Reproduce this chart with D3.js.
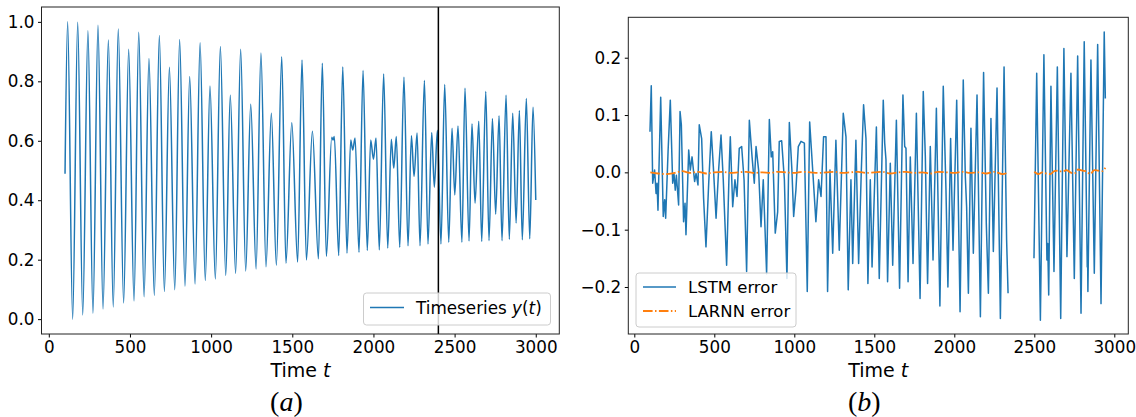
<!DOCTYPE html>
<html>
<head>
<meta charset="utf-8">
<script src="https://cdn.jsdelivr.net/npm/d3@7"></script>
<style>
body { margin: 0; background: #fff; }
text { font-family: "DejaVu Sans", sans-serif; fill: #000; }
</style>
</head>
<body>
<svg id="chart" width="1136" height="417"></svg>
<script>

// ---- data ----
// (a) timeseries, peaks and troughs
var seriesTime = [100, 116, 147, 178, 209, 241, 272, 303, 334, 367, 397, 428, 461, 492, 525, 554, 587, 617, 650, 681,
	712, 743, 776, 806, 839, 868, 901, 932, 964, 993, 1026, 1057, 1090, 1118, 1151, 1182, 1213, 1244, 1277, 1307,
	1338, 1371, 1402, 1435, 1461, 1497, 1533, 1560, 1587, 1624, 1661, 1685, 1710, 1743, 1751, 1759, 1786, 1811, 1837, 1860,
	1872, 1887, 1911, 1936, 1962, 1983, 2000, 2016, 2036, 2063, 2088, 2110, 2125, 2141, 2162, 2188, 2213, 2234, 2250, 2269,
	2287, 2314, 2336, 2359, 2375, 2394, 2416, 2439, 2464, 2484, 2501, 2521, 2545, 2564, 2589, 2607, 2626, 2649, 2667, 2692,
	2712, 2733, 2753, 2774, 2792, 2817, 2837, 2858, 2879, 2899, 2917, 2942, 2963, 2983, 3000];
var seriesValue = [0.489, 1.0, 0.0, 0.999, 0.014, 0.970, 0.020, 0.989, 0.034, 0.939, 0.041, 0.976, 0.054, 0.908, 0.061, 0.965, 0.075, 0.877, 0.080, 0.954,
	0.093, 0.847, 0.099, 0.941, 0.111, 0.816, 0.118, 0.930, 0.130, 0.784, 0.135, 0.917, 0.147, 0.753, 0.154, 0.908, 0.162, 0.723, 0.169, 0.895,
	0.176, 0.693, 0.181, 0.883, 0.188, 0.661, 0.192, 0.872, 0.199, 0.632, 0.203, 0.861, 0.211, 0.612, 0.603, 0.614, 0.214, 0.848, 0.222, 0.603,
	0.569, 0.609, 0.225, 0.836, 0.231, 0.603, 0.538, 0.609, 0.233, 0.825, 0.239, 0.605, 0.508, 0.614, 0.242, 0.814, 0.247, 0.617, 0.480, 0.626,
	0.247, 0.803, 0.253, 0.628, 0.444, 0.635, 0.253, 0.789, 0.259, 0.642, 0.418, 0.650, 0.259, 0.777, 0.263, 0.657, 0.390, 0.666, 0.261, 0.766,
	0.264, 0.675, 0.353, 0.684, 0.264, 0.753, 0.269, 0.693, 0.323, 0.702, 0.267, 0.742, 0.270, 0.713, 0.401];
var splitTime = 2400;

// (b) LSTM error, two pieces
var lstmTime1 = [98, 106, 115, 127, 136, 142, 148, 165, 181, 190, 196, 211, 225, 240, 248, 256, 263, 277, 286, 294,
	308, 317, 323, 340, 350, 361, 377, 386, 398, 406, 421, 433, 448, 465, 481, 494, 511, 527, 542, 556,
	577, 594, 600, 615, 629, 642, 656, 671, 686, 702, 719, 736, 750, 761, 777, 792, 806, 827, 844, 856,
	865, 881, 896, 906, 921, 938, 954, 969, 985, 996, 1010, 1025, 1042, 1063, 1081, 1096, 1115, 1135, 1152, 1167,
	1183, 1198, 1208, 1223, 1240, 1260, 1281, 1306, 1323, 1337, 1354, 1365, 1385, 1402, 1419, 1433, 1448, 1460, 1475, 1486,
	1513, 1531, 1556, 1565, 1573, 1583, 1600, 1615, 1638, 1658, 1679, 1690, 1698, 1711, 1725, 1742, 1763, 1786, 1806, 1819,
	1833, 1850, 1867, 1888, 1910, 1931, 1948, 1960, 1977, 1992, 2015, 2036, 2056, 2069, 2077, 2088, 2104, 2119, 2142, 2163,
	2183, 2200, 2213, 2229, 2244, 2267, 2288, 2311, 2327, 2336];
var lstmValue1 = [0.071, 0.151, -0.019, 0.004, -0.037, -0.019, -0.066, 0.131, -0.077, -0.048, -0.080, 0.036, 0.126, -0.019, -0.002, -0.031, -0.005, -0.057, 0.106, 0.083,
	-0.086, -0.054, -0.109, 0.039, 0.004, 0.027, -0.016, -0.002, -0.022, 0.083, 0.059, -0.045, -0.130, -0.019, 0.071, 0.010, -0.080, 0.004, 0.065, -0.013,
	-0.162, 0.016, 0.062, -0.060, -0.013, -0.042, 0.042, 0.045, -0.013, -0.173, 0.091, 0.027, -0.019, 0.045, 0.004, -0.095, -0.013, -0.177, 0.092, 0.027,
	0.036, -0.106, -0.069, 0.054, 0.055, -0.013, -0.185, 0.087, 0.004, -0.077, -0.031, 0.045, 0.054, 0.051, -0.208, 0.088, 0.004, -0.086, -0.013, -0.042,
	0.062, 0.062, -0.208, 0.004, -0.141, 0.056, -0.136, 0.103, 0.062, -0.205, -0.013, -0.159, 0.056, -0.159, 0.004, 0.118, 0.059, -0.194, -0.013, -0.165,
	0.079, -0.185, 0.126, 0.051, 0.022, -0.191, 0.016, -0.162, 0.091, -0.202, 0.135, 0.045, 0.042, -0.191, 0.027, -0.159, 0.103, -0.220, 0.141, 0.027,
	-0.194, 0.045, -0.153, 0.112, -0.233, 0.150, -0.031, -0.200, 0.059, -0.136, 0.126, -0.243, 0.161, -0.008, -0.060, -0.211, 0.077, -0.141, 0.135, -0.252,
	0.174, -0.089, -0.211, 0.094, -0.138, 0.147, -0.255, 0.184, -0.118, -0.211];
var lstmTime2 = [2498, 2515, 2538, 2560, 2579, 2584, 2590, 2604, 2623, 2644, 2665, 2685, 2704, 2729, 2750, 2771, 2792, 2812, 2831, 2833,
	2835, 2854, 2875, 2896, 2917, 2937, 2944];
var lstmValue2 = [-0.150, 0.173, -0.258, 0.205, -0.153, -0.124, -0.214, 0.150, -0.173, 0.184, -0.255, 0.216, -0.147, 0.173, -0.185, 0.203, -0.246, 0.228, -0.165, -0.140,
	-0.208, 0.196, -0.176, 0.223, -0.229, 0.245, 0.129];

// (b) LARNN error, two pieces
var larnnTime1 = [100, 150, 200, 250, 300, 350, 400, 450, 500, 550, 600, 650, 700, 750, 800, 850, 900, 950, 1000, 1050,
	1100, 1150, 1200, 1250, 1300, 1350, 1400, 1450, 1500, 1550, 1600, 1650, 1700, 1750, 1800, 1850, 1900, 1950, 2000, 2050,
	2100, 2150, 2200, 2250, 2300, 2340];
var larnnValue1 = [0.000, -0.002, -0.003, -0.001, 0.002, -0.001, 0.001, -0.002, 0.000, 0.001, -0.001, 0.000, 0.001, -0.001, 0.000, -0.001, 0.001, 0.000, -0.001, 0.001,
	0.000, -0.001, 0.000, 0.001, -0.001, 0.000, 0.001, -0.001, 0.000, 0.001, -0.002, 0.000, 0.001, -0.001, 0.000, -0.002, 0.001, 0.000, -0.001, 0.001,
	-0.001, 0.000, -0.002, 0.001, -0.003, 0.000];
var larnnTime2 = [2500, 2525, 2550, 2575, 2600, 2625, 2650, 2675, 2700, 2725, 2750, 2775, 2800, 2825, 2850, 2875, 2900, 2925, 2944];
var larnnValue2 = [0.001, -0.003, 0.000, -0.002, -0.003, 0.002, 0.003, 0.001, 0.004, 0.000, -0.002, 0.005, 0.003, 0.002, -0.003, 0.004, 0.003, 0.002, 0.008];

var xTicks = [0, 500, 1000, 1500, 2000, 2500, 3000];
var yTicksA = [0.0, 0.2, 0.4, 0.6, 0.8, 1.0];
var yTicksB = [-0.2, -0.1, 0.0, 0.1, 0.2];

var blue = "#1f77b4";
var orange = "#ff7f0e";
var dashDot = "9.6,2.4,1.5,2.4";

function zip(ts, vs)
{
	return ts.map(function(t, i) { return [t, vs[i]]; });
}

function drawAxes(g, x, y, yTicks, yFormat)
{
	var xAxis = d3.axisBottom(x)
		.tickValues(xTicks)
		.tickFormat(d3.format("d"))
		.tickSize(3.5)
		.tickPadding(3.5);
	var yAxis = d3.axisLeft(y)
		.tickValues(yTicks)
		.tickFormat(yFormat)
		.tickSize(3.5)
		.tickPadding(3.5);

	g.append("g")
		.attr("transform", "translate(0," + y.range()[0] + ")")
		.call(xAxis)
		.call(function(s) { s.select(".domain").remove(); });
	g.append("g")
		.attr("transform", "translate(" + x.range()[0] + ",0)")
		.call(yAxis)
		.call(function(s) { s.select(".domain").remove(); });

	g.selectAll(".tick text")
		.attr("font-family", "DejaVu Sans")
		.attr("font-size", 16.8)
		.attr("fill", "#000");
	g.selectAll(".tick line")
		.attr("stroke", "#000")
		.attr("stroke-width", 1);

	g.append("rect")
		.attr("x", x.range()[0])
		.attr("y", y.range()[1])
		.attr("width", x.range()[1] - x.range()[0])
		.attr("height", y.range()[0] - y.range()[1])
		.attr("fill", "none")
		.attr("stroke", "#222")
		.attr("stroke-width", 1);
}

function drawLabels(g, cx, caption)
{
	var lab = g.append("text")
		.attr("x", cx)
		.attr("y", 377)
		.attr("text-anchor", "middle")
		.attr("font-size", 19);
	lab.append("tspan").text("Time ");
	lab.append("tspan").attr("font-style", "italic").text("t");

	var cap = g.append("text")
		.attr("x", cx - 14)
		.attr("y", 411)
		.attr("text-anchor", "middle")
		.attr("font-size", 28)
		.style("font-family", "'Liberation Serif', serif");
	cap.append("tspan").text("(");
	cap.append("tspan").attr("font-style", "italic").text(caption);
	cap.append("tspan").text(")");
}

function drawLeft(svg)
{
	var g = svg.append("g");
	var x = d3.scaleLinear().domain([-45, 3145]).range([41.5, 559.3]);
	var y = d3.scaleLinear().domain([-0.05, 1.05]).range([334, 7]);

	var line = d3.line()
		.x(function(d) { return x(d[0]); })
		.y(function(d) { return y(d[1]); })
		.curve(d3.curveMonotoneX);

	g.append("path")
		.datum(zip(seriesTime, seriesValue))
		.attr("d", line)
		.attr("fill", "none")
		.attr("stroke", blue)
		.attr("stroke-width", 1.5);

	g.append("line")
		.attr("x1", x(splitTime))
		.attr("x2", x(splitTime))
		.attr("y1", y.range()[1])
		.attr("y2", y.range()[0])
		.attr("stroke", "#000")
		.attr("stroke-width", 1.5);

	drawAxes(g, x, y, yTicksA, d3.format(".1f"));

	// legend
	var lg = g.append("g");
	lg.append("rect")
		.attr("x", 363.5).attr("y", 293)
		.attr("width", 187).attr("height", 32)
		.attr("rx", 3)
		.attr("fill", "#fff").attr("fill-opacity", 0.8)
		.attr("stroke", "#ccc");
	lg.append("line")
		.attr("x1", 370).attr("x2", 404)
		.attr("y1", 307.5).attr("y2", 307.5)
		.attr("stroke", blue).attr("stroke-width", 1.5);
	var t = lg.append("text").attr("x", 416).attr("y", 313.5).attr("font-size", 16.8);
	t.append("tspan").text("Timeseries ");
	t.append("tspan").attr("font-style", "italic").text("y");
	t.append("tspan").text("(");
	t.append("tspan").attr("font-style", "italic").text("t");
	t.append("tspan").text(")");

	drawLabels(g, (41.5 + 559.3) / 2, "a");
}

function drawRight(svg)
{
	var g = svg.append("g");
	var x = d3.scaleLinear().domain([-37.5, 3087.5]).range([628.3, 1128.3]);
	var y = d3.scaleLinear().domain([-0.282, 0.2705]).range([334, 17.3]);

	var line = d3.line()
		.x(function(d) { return x(d[0]); })
		.y(function(d) { return y(d[1]); });

	[zip(lstmTime1, lstmValue1), zip(lstmTime2, lstmValue2)].forEach(function(seg)
	{
		g.append("path")
			.datum(seg)
			.attr("d", line)
			.attr("fill", "none")
			.attr("stroke", blue)
			.attr("stroke-width", 1.5)
			.attr("stroke-linejoin", "round");
	});

	var smooth = d3.line()
		.x(function(d) { return x(d[0]); })
		.y(function(d) { return y(d[1]); })
		.curve(d3.curveMonotoneX);

	[zip(larnnTime1, larnnValue1), zip(larnnTime2, larnnValue2)].forEach(function(seg)
	{
		g.append("path")
			.datum(seg)
			.attr("d", smooth)
			.attr("fill", "none")
			.attr("stroke", orange)
			.attr("stroke-width", 1.8)
			.attr("stroke-dasharray", dashDot);
	});

	drawAxes(g, x, y, yTicksB, d3.format(".1f"));

	// legend
	var lg = g.append("g");
	lg.append("rect")
		.attr("x", 636).attr("y", 273)
		.attr("width", 160).attr("height", 54)
		.attr("rx", 3)
		.attr("fill", "#fff").attr("fill-opacity", 0.8)
		.attr("stroke", "#ccc");
	lg.append("line")
		.attr("x1", 643).attr("x2", 676)
		.attr("y1", 287).attr("y2", 287)
		.attr("stroke", blue).attr("stroke-width", 1.5);
	lg.append("line")
		.attr("x1", 643).attr("x2", 676)
		.attr("y1", 311).attr("y2", 311)
		.attr("stroke", orange).attr("stroke-width", 1.8)
		.attr("stroke-dasharray", dashDot);
	lg.append("text").attr("x", 688).attr("y", 292.5).attr("font-size", 16.5).text("LSTM error");
	lg.append("text").attr("x", 688).attr("y", 316.5).attr("font-size", 16.5).text("LARNN error");

	drawLabels(g, (628.3 + 1128.3) / 2, "b");
}

var svg = d3.select("#chart");
svg.append("rect").attr("width", 1136).attr("height", 417).attr("fill", "#fff");
drawLeft(svg);
drawRight(svg);

</script>
</body>
</html>
